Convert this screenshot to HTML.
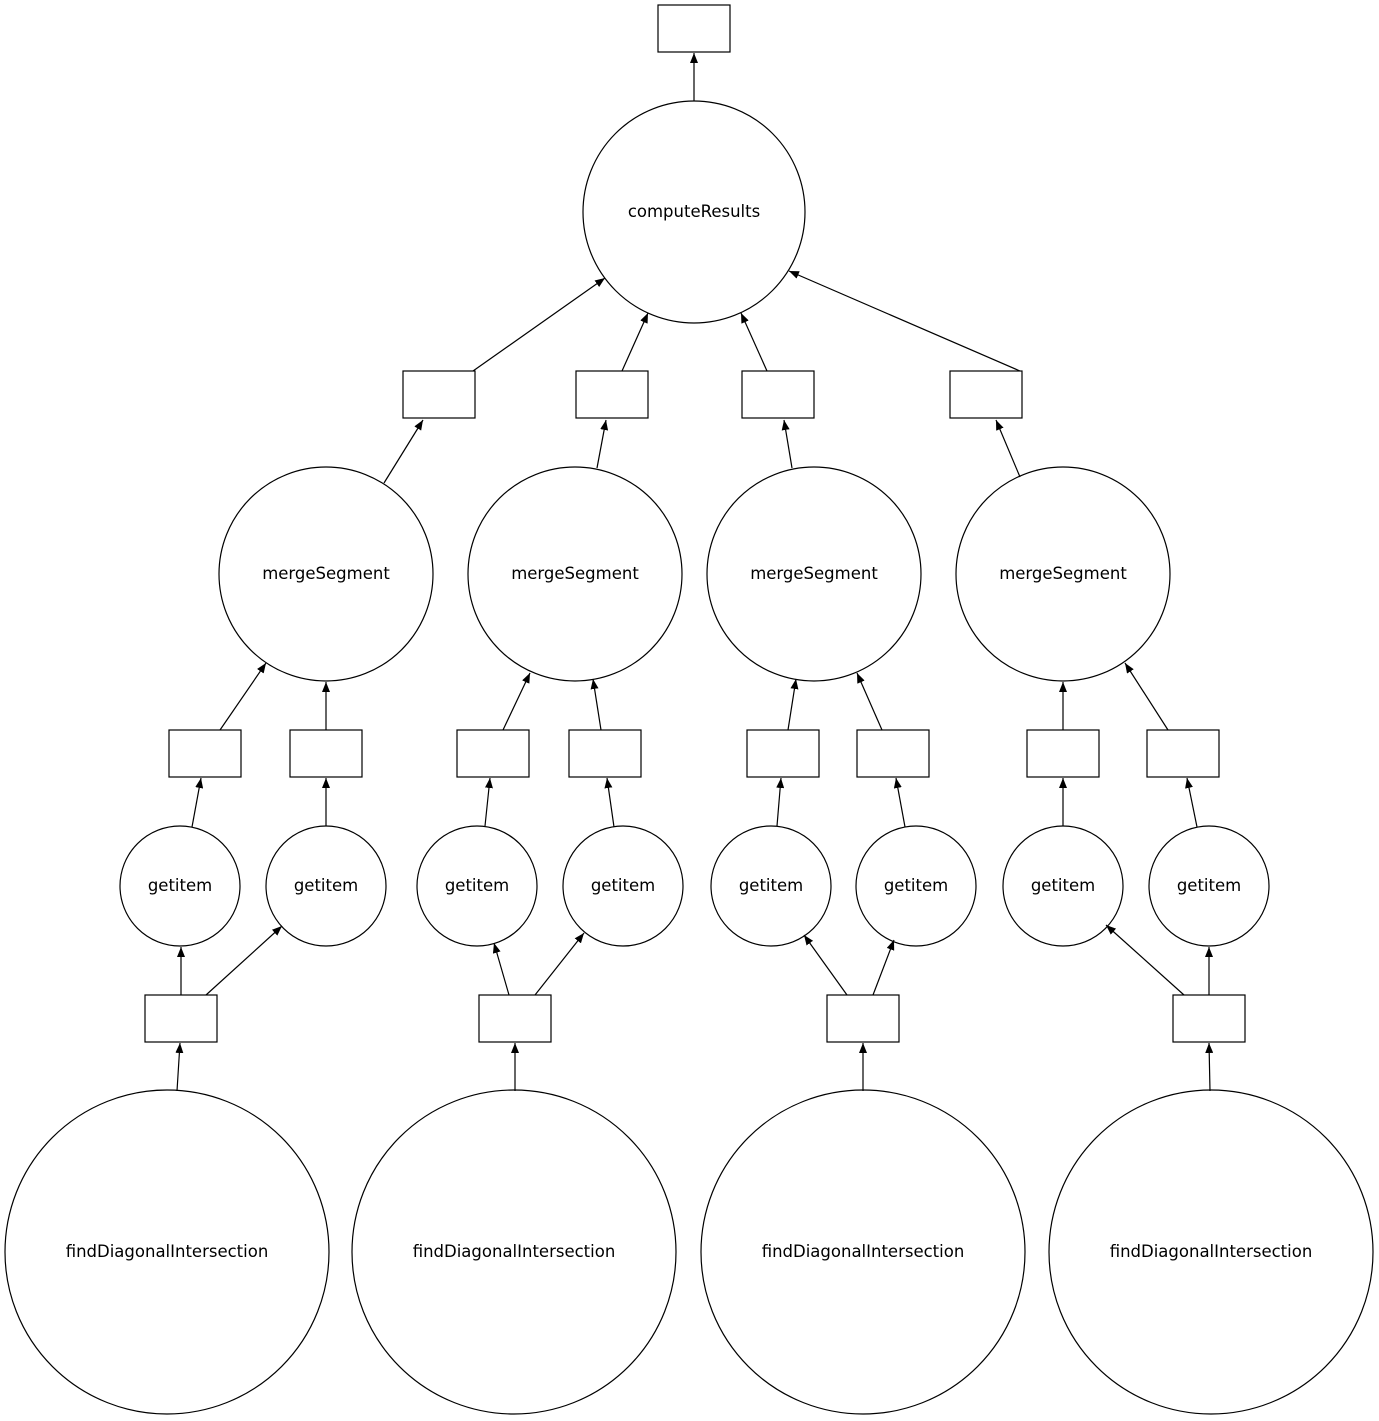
<!DOCTYPE html>
<html><head><meta charset="utf-8"><style>html,body{margin:0;padding:0;background:#fff}svg{display:block}text{font-family:"DejaVu Sans","Liberation Sans",sans-serif;font-size:16.5px;fill:#000}</style></head>
<body>
<svg width="1379" height="1421" viewBox="0 0 1379 1421" xmlns="http://www.w3.org/2000/svg">
<defs><marker id="a" markerWidth="11" markerHeight="8" refX="10" refY="4" orient="auto" markerUnits="userSpaceOnUse"><path d="M0,0 L10,4 L0,8 Z" fill="#000"/></marker></defs>
<g fill="none" stroke="#000" stroke-width="1.2">
<rect x="658" y="5" width="72" height="47"/>
<circle cx="694" cy="212" r="111"/>
<rect x="403" y="371" width="72" height="47"/><rect x="576" y="371" width="72" height="47"/><rect x="742" y="371" width="72" height="47"/><rect x="950" y="371" width="72" height="47"/>
<circle cx="326" cy="574" r="107"/><circle cx="575" cy="574" r="107"/><circle cx="814" cy="574" r="107"/><circle cx="1063" cy="574" r="107"/>
<rect x="169" y="730" width="72" height="47"/><rect x="290" y="730" width="72" height="47"/><rect x="457" y="730" width="72" height="47"/><rect x="569" y="730" width="72" height="47"/><rect x="747" y="730" width="72" height="47"/><rect x="857" y="730" width="72" height="47"/><rect x="1027" y="730" width="72" height="47"/><rect x="1147" y="730" width="72" height="47"/>
<circle cx="180" cy="886" r="60"/><circle cx="326" cy="886" r="60"/><circle cx="477" cy="886" r="60"/><circle cx="623" cy="886" r="60"/><circle cx="771" cy="886" r="60"/><circle cx="916" cy="886" r="60"/><circle cx="1063" cy="886" r="60"/><circle cx="1209" cy="886" r="60"/>
<rect x="145" y="995" width="72" height="47"/><rect x="479" y="995" width="72" height="47"/><rect x="827" y="995" width="72" height="47"/><rect x="1173" y="995" width="72" height="47"/>
<circle cx="167" cy="1252" r="162"/><circle cx="514" cy="1252" r="162"/><circle cx="863" cy="1252" r="162"/><circle cx="1211" cy="1252" r="162"/>
</g>
<g stroke="#000" stroke-width="1.2" marker-end="url(#a)">
<line x1="694" y1="101" x2="694" y2="53"/>
<line x1="473" y1="371" x2="605" y2="278"/>
<line x1="622" y1="371" x2="648" y2="313"/>
<line x1="767" y1="371" x2="741" y2="313"/>
<line x1="1020" y1="371" x2="789" y2="271"/>
<line x1="384" y1="483" x2="423" y2="420"/>
<line x1="597" y1="468" x2="606" y2="420"/>
<line x1="792" y1="468" x2="784" y2="420"/>
<line x1="1020" y1="477" x2="996" y2="420"/>
<line x1="220" y1="730" x2="266" y2="663"/>
<line x1="326" y1="730" x2="326" y2="682"/>
<line x1="503" y1="730" x2="530" y2="673"/>
<line x1="601" y1="730" x2="593" y2="679"/>
<line x1="788" y1="730" x2="796" y2="679"/>
<line x1="882" y1="730" x2="857" y2="673"/>
<line x1="1063" y1="730" x2="1063" y2="682"/>
<line x1="1168" y1="730" x2="1125" y2="663"/>
<line x1="192" y1="827" x2="201" y2="778"/>
<line x1="326" y1="826" x2="326" y2="778"/>
<line x1="485" y1="826" x2="490" y2="778"/>
<line x1="614" y1="827" x2="607" y2="778"/>
<line x1="777" y1="826" x2="781" y2="778"/>
<line x1="905" y1="827" x2="896" y2="778"/>
<line x1="1063" y1="826" x2="1063" y2="778"/>
<line x1="1197" y1="827" x2="1187" y2="778"/>
<line x1="181" y1="995" x2="181" y2="947"/>
<line x1="206" y1="995" x2="282" y2="926"/>
<line x1="509" y1="995" x2="494" y2="943"/>
<line x1="535" y1="995" x2="584" y2="933"/>
<line x1="847" y1="995" x2="804" y2="935"/>
<line x1="873" y1="995" x2="894" y2="940"/>
<line x1="1184" y1="995" x2="1106" y2="925"/>
<line x1="1209" y1="995" x2="1209" y2="947"/>
<line x1="177" y1="1091" x2="180" y2="1043"/>
<line x1="515" y1="1091" x2="515" y2="1043"/>
<line x1="863" y1="1091" x2="863" y2="1043"/>
<line x1="1210" y1="1091" x2="1209" y2="1043"/>
</g>
<g text-anchor="middle">
<text x="694" y="217">computeResults</text>
<text x="326" y="579">mergeSegment</text><text x="575" y="579">mergeSegment</text><text x="814" y="579">mergeSegment</text><text x="1063" y="579">mergeSegment</text>
<text x="180" y="891">getitem</text><text x="326" y="891">getitem</text><text x="477" y="891">getitem</text><text x="623" y="891">getitem</text><text x="771" y="891">getitem</text><text x="916" y="891">getitem</text><text x="1063" y="891">getitem</text><text x="1209" y="891">getitem</text>
<text x="167" y="1257">findDiagonalIntersection</text><text x="514" y="1257">findDiagonalIntersection</text><text x="863" y="1257">findDiagonalIntersection</text><text x="1211" y="1257">findDiagonalIntersection</text>
</g>
</svg>
</body></html>
